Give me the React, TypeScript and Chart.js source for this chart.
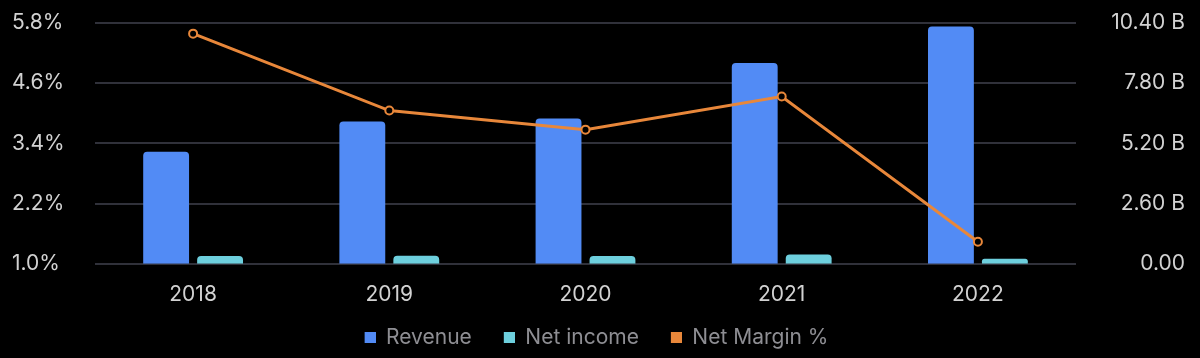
import React, { useEffect, useRef } from "react";
import { Chart, registerables } from "chart.js";

Chart.register(...registerables);

const years = ["2018", "2019", "2020", "2021", "2022"];
const revenue = [4.83, 6.14, 6.27, 8.66, 10.23];
const netIncome = [0.34, 0.35, 0.34, 0.4, 0.22];
const netMargin = [5.58, 4.05, 3.67, 4.33, 1.44];

const leftTicks = { min: 1.0, max: 5.8, step: 1.2 };
const rightTicks = { min: 0, max: 10.4, step: 2.6 };

const FONT = "Inter, Roboto, sans-serif";
const BOX = 11;
const GAP = 30;

function legendSwatch(color: string) {
  const c = document.createElement("canvas");
  c.width = BOX + GAP;
  c.height = BOX;
  const ctx = c.getContext("2d");
  if (ctx) {
    ctx.fillStyle = color;
    ctx.fillRect(GAP, 0, BOX, BOX);
  }
  return c;
}

const legendShift = {
  id: "legendShift",
  afterLayout(chart: any) {
    const l = chart.legend;
    if (l) {
      l.left -= 17;
      l.right -= 17;
    }
  },
};

export default function App() {
  const ref = useRef<HTMLCanvasElement | null>(null);

  useEffect(() => {
    document.body.style.margin = "0";
    document.body.style.background = "#000";
    const canvas = ref.current;
    if (!canvas) return;
    const chart = new Chart(canvas, {
      type: "bar",
      data: {
        labels: years,
        datasets: [
          {
            type: "line",
            label: "Net Margin %",
            data: netMargin,
            yAxisID: "y",
            borderColor: "#E8873A",
            backgroundColor: "#E8873A",
            borderWidth: 3,
            pointRadius: 4,
            pointBorderWidth: 2,
            pointBackgroundColor: "#000",
            pointBorderColor: "#E8873A",
            tension: 0,
            order: 0,
          } as any,
          {
            type: "bar",
            label: "Revenue",
            data: revenue,
            yAxisID: "y1",
            backgroundColor: "#528BF5",
            borderWidth: 0,
            borderRadius: 4,
            borderSkipped: "bottom",
            categoryPercentage: 0.55,
            barPercentage: 0.85,
            order: 1,
          },
          {
            type: "bar",
            label: "Net income",
            data: netIncome,
            yAxisID: "y1",
            backgroundColor: "#6DCFDD",
            borderWidth: 0,
            borderRadius: 4,
            borderSkipped: "bottom",
            categoryPercentage: 0.55,
            barPercentage: 0.85,
            order: 2,
          },
        ],
      },
      options: {
        animation: false,
        responsive: false,
        maintainAspectRatio: false,
        layout: { padding: { left: 12, right: 15, top: 21, bottom: 0 } },
        plugins: {
          tooltip: { enabled: false },
          legend: {
            position: "bottom",
            labels: {
              color: "#8e8e93",
              font: { family: FONT, size: 21 },
              usePointStyle: true,
              pointStyleWidth: BOX + GAP,
              boxHeight: BOX,
              padding: 2,
              sort: (a: any, b: any) => {
                const ord = ["Revenue", "Net income", "Net Margin %"];
                return ord.indexOf(a.text) - ord.indexOf(b.text);
              },
              generateLabels: (c: any) => {
                const items = Chart.defaults.plugins.legend.labels.generateLabels(c);
                return items.map((it: any) => {
                  const color = c.data.datasets[it.datasetIndex].backgroundColor;
                  return {
                    ...it,
                    fillStyle: color,
                    strokeStyle: color,
                    lineWidth: 0,
                    pointStyle: legendSwatch(color),
                    fontColor: "#8e8e93",
                  };
                });
              },
            },
          },
        },
        scales: {
          x: {
            grid: { display: false, drawTicks: false },
            border: { display: false },
            ticks: {
              color: "#d2d2d2",
              font: { family: FONT, size: 21 },
              padding: 18,
            },
          },
          y: {
            position: "left",
            min: leftTicks.min,
            max: leftTicks.max,
            grid: { color: "#30313a", lineWidth: 2, drawTicks: false },
            border: { display: false },
            ticks: {
              stepSize: leftTicks.step,
              color: "#d2d2d2",
              font: { family: FONT, size: 21 },
              crossAlign: "far",
              padding: 10,
              callback: (v: any) => Number(v).toFixed(1) + "%",
            },
            afterFit: (s: any) => {
              s.width = 83;
            },
          },
          y1: {
            position: "right",
            min: rightTicks.min,
            max: rightTicks.max,
            grid: { display: false, drawTicks: false },
            border: { display: false },
            ticks: {
              stepSize: rightTicks.step,
              color: "#d2d2d2",
              font: { family: FONT, size: 21 },
              crossAlign: "far",
              padding: 10,
              callback: (v: any) =>
                Number(v) === 0 ? "0.00" : Number(v).toFixed(2) + " B",
            },
            afterFit: (s: any) => {
              s.width = 109;
            },
          },
        },
      } as any,
      plugins: [legendShift],
    });
    return () => chart.destroy();
  }, []);

  return (
    <div style={{ width: 1200, height: 358, background: "#000" }}>
      <canvas ref={ref} width={1200} height={358} style={{ display: "block" }} />
    </div>
  );
}
